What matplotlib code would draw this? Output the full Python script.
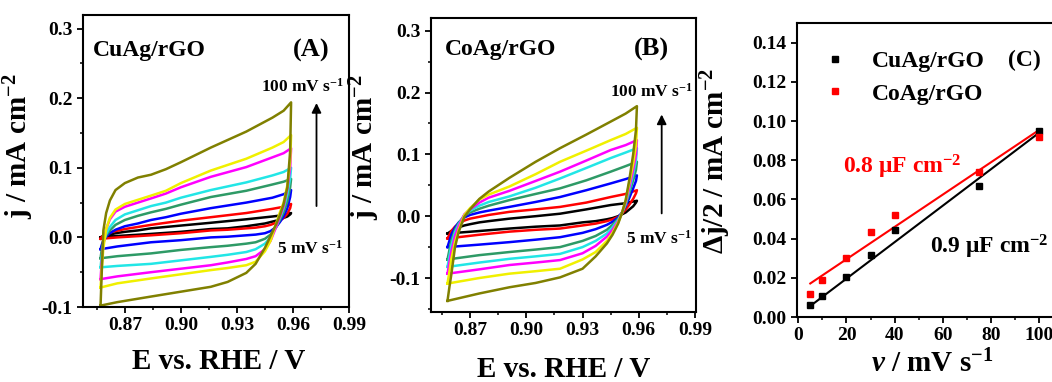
import numpy as np
import matplotlib
matplotlib.use("Agg")
import matplotlib.pyplot as plt
from matplotlib.ticker import MultipleLocator, FormatStrFormatter

plt.rcParams.update({"font.family": "Liberation Serif", "font.weight": "bold",
    "axes.labelweight": "bold", "mathtext.fontset": "custom",
    "mathtext.rm": "Liberation Serif:bold", "mathtext.bf": "Liberation Serif:bold",
    "mathtext.it": "Liberation Serif:italic:bold", "axes.linewidth": 1.5,
    "axes.unicode_minus": False,
    "xtick.major.width": 1.3, "ytick.major.width": 1.3, "xtick.minor.width": 1.1,
    "ytick.minor.width": 1.1, "xtick.major.size": 4, "ytick.major.size": 4,
    "xtick.minor.size": 2.5, "ytick.minor.size": 2.5, "xtick.labelsize": 14,
    "ytick.labelsize": 14, "axes.labelsize": 21})

# CV colours, slowest -> fastest scan
CV_COLORS = ["black", "#ff0000", "#0000ff", "#2e9a66", "#22e6e6", "#ff00ff", "#f0f000", "#808000"]

# ---- panel A (CuAg/rGO): anodic branch then cathodic branch ----
A_up_E = [0.857, 0.8575, 0.8585, 0.860, 0.862, 0.865, 0.870, 0.877, 0.884, 0.892, 0.900,
          0.916, 0.935, 0.949, 0.955, 0.959]
A_lo_E = [0.959, 0.9585, 0.957, 0.955, 0.953, 0.951, 0.948, 0.945, 0.940, 0.935, 0.925,
          0.916, 0.900, 0.884, 0.866, 0.857]
A_up = [
    [0.000, 0.001, 0.002, 0.003, 0.004, 0.006, 0.008, 0.010, 0.013, 0.015, 0.017, 0.021, 0.026, 0.030, 0.032, 0.035],
    [-0.002, 0.000, 0.003, 0.005, 0.007, 0.009, 0.012, 0.015, 0.018, 0.021, 0.024, 0.029, 0.035, 0.041, 0.044, 0.048],
    [-0.017, -0.012, -0.004, 0.001, 0.006, 0.011, 0.016, 0.020, 0.025, 0.029, 0.034, 0.042, 0.050, 0.057, 0.062, 0.068],
    [-0.030, -0.020, -0.006, 0.003, 0.010, 0.018, 0.025, 0.031, 0.036, 0.041, 0.047, 0.058, 0.067, 0.076, 0.080, 0.084],
    [-0.043, -0.030, -0.008, 0.005, 0.015, 0.025, 0.033, 0.039, 0.045, 0.050, 0.057, 0.068, 0.079, 0.089, 0.094, 0.100],
    [-0.060, -0.040, -0.010, 0.012, 0.026, 0.037, 0.044, 0.050, 0.056, 0.063, 0.072, 0.087, 0.101, 0.115, 0.121, 0.128],
    [-0.072, -0.050, -0.015, 0.012, 0.028, 0.040, 0.048, 0.054, 0.060, 0.067, 0.078, 0.096, 0.113, 0.129, 0.137, 0.147],
    [-0.098, -0.060, 0.010, 0.035, 0.053, 0.068, 0.078, 0.086, 0.090, 0.098, 0.108, 0.129, 0.152, 0.172, 0.182, 0.194],
]
A_lo = [
    [0.035, 0.033, 0.030, 0.028, 0.026, 0.024, 0.022, 0.020, 0.018, 0.016, 0.013, 0.012, 0.008, 0.005, 0.002, 0.000],
    [0.048, 0.042, 0.034, 0.028, 0.024, 0.021, 0.018, 0.016, 0.014, 0.013, 0.011, 0.010, 0.006, 0.003, 0.000, -0.002],
    [0.068, 0.058, 0.042, 0.030, 0.022, 0.015, 0.009, 0.006, 0.004, 0.003, 0.001, 0.000, -0.004, -0.007, -0.013, -0.017],
    [0.084, 0.072, 0.052, 0.036, 0.025, 0.015, 0.004, -0.002, -0.007, -0.009, -0.012, -0.014, -0.018, -0.023, -0.027, -0.030],
    [0.100, 0.085, 0.062, 0.042, 0.028, 0.015, 0.000, -0.009, -0.017, -0.021, -0.025, -0.028, -0.033, -0.038, -0.041, -0.043],
    [0.128, 0.100, 0.070, 0.045, 0.030, 0.015, -0.005, -0.017, -0.027, -0.031, -0.036, -0.040, -0.045, -0.050, -0.056, -0.060],
    [0.147, 0.110, 0.075, 0.050, 0.036, 0.020, -0.005, -0.020, -0.035, -0.040, -0.044, -0.047, -0.053, -0.059, -0.066, -0.072],
    [0.194, 0.124, 0.072, 0.048, 0.032, 0.019, 0.002, -0.015, -0.038, -0.051, -0.064, -0.071, -0.078, -0.085, -0.093, -0.098],
]

# ---- panel B (CoAg/rGO) ----
B_up_E = [0.858, 0.859, 0.860, 0.862, 0.864, 0.867, 0.870, 0.875, 0.880, 0.891, 0.905,
          0.918, 0.932, 0.945, 0.953, 0.959]
B_lo_E = [0.959, 0.9585, 0.957, 0.955, 0.953, 0.951, 0.949, 0.946, 0.943, 0.937, 0.930,
          0.918, 0.905, 0.891, 0.875, 0.858]
B_up = [
    [-0.028, -0.026, -0.024, -0.021, -0.018, -0.015, -0.013, -0.010, -0.008, -0.004, 0.000, 0.004, 0.011, 0.018, 0.021, 0.025],
    [-0.036, -0.030, -0.024, -0.017, -0.012, -0.007, -0.004, -0.001, 0.002, 0.007, 0.011, 0.015, 0.022, 0.031, 0.036, 0.042],
    [-0.050, -0.040, -0.030, -0.018, -0.010, -0.002, 0.002, 0.006, 0.009, 0.015, 0.023, 0.031, 0.042, 0.053, 0.060, 0.066],
    [-0.070, -0.055, -0.040, -0.022, -0.011, 0.001, 0.006, 0.012, 0.017, 0.026, 0.036, 0.045, 0.058, 0.072, 0.081, 0.088],
    [-0.082, -0.065, -0.048, -0.026, -0.013, 0.002, 0.009, 0.017, 0.023, 0.032, 0.046, 0.061, 0.078, 0.094, 0.103, 0.110],
    [-0.093, -0.075, -0.058, -0.032, -0.016, 0.003, 0.011, 0.022, 0.030, 0.041, 0.057, 0.072, 0.090, 0.107, 0.115, 0.123],
    [-0.109, -0.090, -0.070, -0.042, -0.022, 0.002, 0.013, 0.027, 0.035, 0.048, 0.068, 0.088, 0.106, 0.123, 0.133, 0.143],
    [-0.137, -0.115, -0.095, -0.050, -0.025, -0.001, 0.011, 0.028, 0.040, 0.062, 0.088, 0.110, 0.132, 0.153, 0.166, 0.178],
]
B_lo = [
    [0.025, 0.022, 0.016, 0.011, 0.006, 0.003, 0.000, -0.003, -0.005, -0.008, -0.010, -0.015, -0.017, -0.020, -0.024, -0.028],
    [0.042, 0.037, 0.028, 0.019, 0.011, 0.004, -0.001, -0.005, -0.008, -0.012, -0.015, -0.020, -0.022, -0.025, -0.030, -0.036],
    [0.066, 0.057, 0.045, 0.030, 0.016, 0.006, -0.002, -0.009, -0.014, -0.021, -0.027, -0.034, -0.038, -0.042, -0.046, -0.050],
    [0.088, 0.075, 0.058, 0.038, 0.018, 0.005, -0.004, -0.014, -0.022, -0.032, -0.040, -0.050, -0.054, -0.058, -0.063, -0.070],
    [0.110, 0.090, 0.068, 0.043, 0.020, 0.005, -0.006, -0.018, -0.028, -0.040, -0.050, -0.061, -0.065, -0.069, -0.075, -0.082],
    [0.123, 0.100, 0.075, 0.048, 0.022, 0.005, -0.008, -0.022, -0.033, -0.048, -0.060, -0.071, -0.075, -0.079, -0.086, -0.093],
    [0.143, 0.115, 0.085, 0.055, 0.025, 0.005, -0.010, -0.027, -0.040, -0.058, -0.070, -0.085, -0.089, -0.093, -0.100, -0.109],
    [0.178, 0.140, 0.100, 0.060, 0.026, 0.005, -0.012, -0.030, -0.044, -0.065, -0.085, -0.099, -0.108, -0.115, -0.125, -0.137],
]

# ---- panel C: half current difference vs scan rate ----
scan_rate = [5, 10, 20, 30, 40, 75, 100]
dj_cuag = [0.0062, 0.0108, 0.0202, 0.0318, 0.0442, 0.0669, 0.0950]
dj_coag = [0.0116, 0.0188, 0.0301, 0.0436, 0.0522, 0.0741, 0.0920]
fit_x = [5, 100]
fit_cuag = [0.0056, 0.0941]
fit_coag = [0.0171, 0.0955]

W, H = 1052, 382
fig = plt.figure(figsize=(W / 100, H / 100), dpi=100)

def px_axes(l, t, r, b):
    return fig.add_axes([l / W, 1 - b / H, (r - l) / W, (b - t) / H])

def cv_panel(ax, upE, loE, ups, los, xlim, ylim):
    for c, u, lo in zip(CV_COLORS, ups, los):
        ax.plot(upE + loE, u + lo, color=c, lw=1.8, solid_joinstyle="round")
    ax.set_xlim(*xlim); ax.set_ylim(*ylim)
    ax.set_xticks([0.87, 0.90, 0.93, 0.96, 0.99])
    ax.xaxis.set_minor_locator(MultipleLocator(0.015))
    ax.set_yticks([-0.1, 0.0, 0.1, 0.2, 0.3])
    ax.yaxis.set_minor_locator(MultipleLocator(0.05))
    ax.tick_params(which="both", direction="out")
    ax.set_xlabel("E vs. RHE / V")
    ax.set_ylabel(r"j / mA cm$^{-2}$")

axA = px_axes(83, 15, 349, 307)
cv_panel(axA, A_up_E, A_lo_E, A_up, A_lo, (0.8476, 0.99), (-0.1, 0.3195))
axA.text(0.8528, 0.269, "CuAg/rGO", fontsize=17, va="center", ha="left")
axA.text(0.970, 0.269, "(A)", fontsize=19, va="center", ha="center")
axA.annotate("", xy=(0.9726, 0.197), xytext=(0.9726, 0.041),
             arrowprops=dict(arrowstyle="-|>", color="black", lw=1.3, mutation_scale=14))
axA.text(0.965, 0.217, r"100 mV s$^{-1}$", fontsize=12.5, ha="center", va="center")
axA.text(0.9688, -0.016, r"5 mV s$^{-1}$", fontsize=12.5, ha="center", va="center")
axA.xaxis.set_label_coords(0.51, -0.142)
axA.yaxis.set_label_coords(-0.178, 0.55)

axB = px_axes(431, 18, 696, 312)
cv_panel(axB, B_up_E, B_lo_E, B_up, B_lo, (0.8492, 0.9905), (-0.155, 0.3206))
axB.text(0.8567, 0.269, "CoAg/rGO", fontsize=17, va="center", ha="left")
axB.text(0.9669, 0.269, "(B)", fontsize=19, va="center", ha="center")
axB.annotate("", xy=(0.9722, 0.169), xytext=(0.9722, 0.0),
             arrowprops=dict(arrowstyle="-|>", color="black", lw=1.3, mutation_scale=14))
axB.text(0.9669, 0.2016, r"100 mV s$^{-1}$", fontsize=12.5, ha="center", va="center")
axB.text(0.9708, -0.036, r"5 mV s$^{-1}$", fontsize=12.5, ha="center", va="center")
axB.xaxis.set_label_coords(0.50, -0.148)
axB.yaxis.set_label_coords(-0.185, 0.56)

axC = px_axes(797, 23, 1070, 317)
axC.plot(fit_x, fit_cuag, color="black", lw=1.5)
axC.plot(fit_x, fit_coag, color="#ff0000", lw=1.5)
axC.plot(scan_rate, dj_cuag, "s", color="black", ms=4.5, label="CuAg/rGO")
axC.plot(scan_rate, dj_coag, "s", color="#ff0000", ms=4.5, label="CoAg/rGO")
axC.set_xlim(-0.5, 112.7); axC.set_ylim(0, 0.15)
axC.set_xticks([0, 20, 40, 60, 80, 100])
axC.xaxis.set_minor_locator(MultipleLocator(10))
axC.set_yticks(np.arange(0, 0.141, 0.02))
axC.yaxis.set_major_formatter(FormatStrFormatter("%.2f"))
axC.tick_params(which="both", direction="out")
axC.legend(loc="upper left", bbox_to_anchor=(0.096, 0.905), frameon=False, fontsize=17,
           handlelength=1.0, handletextpad=1.05, labelspacing=0.45, borderpad=0,
           borderaxespad=0, numpoints=1)
axC.text(93.6, 0.131, "(C)", fontsize=17, ha="center", va="center")
axC.text(18.7, 0.0767, r"0.8 $\mathregular{\mu}$F cm$^{-2}$", fontsize=17, color="#ff0000",
         ha="left", va="center")
axC.text(54.6, 0.0358, r"0.9 $\mathregular{\mu}$F cm$^{-2}$", fontsize=17, color="black",
         ha="left", va="center")
axC.set_xlabel(r"$\nu$ / mV s$^{-1}$")
axC.set_ylabel(r"$\Delta$j/2 / mA cm$^{-2}$")
axC.xaxis.set_label_coords(0.495, -0.112)
axC.yaxis.set_label_coords(-0.234, 0.53)

fig.savefig("out.png", dpi=100, facecolor="white")
